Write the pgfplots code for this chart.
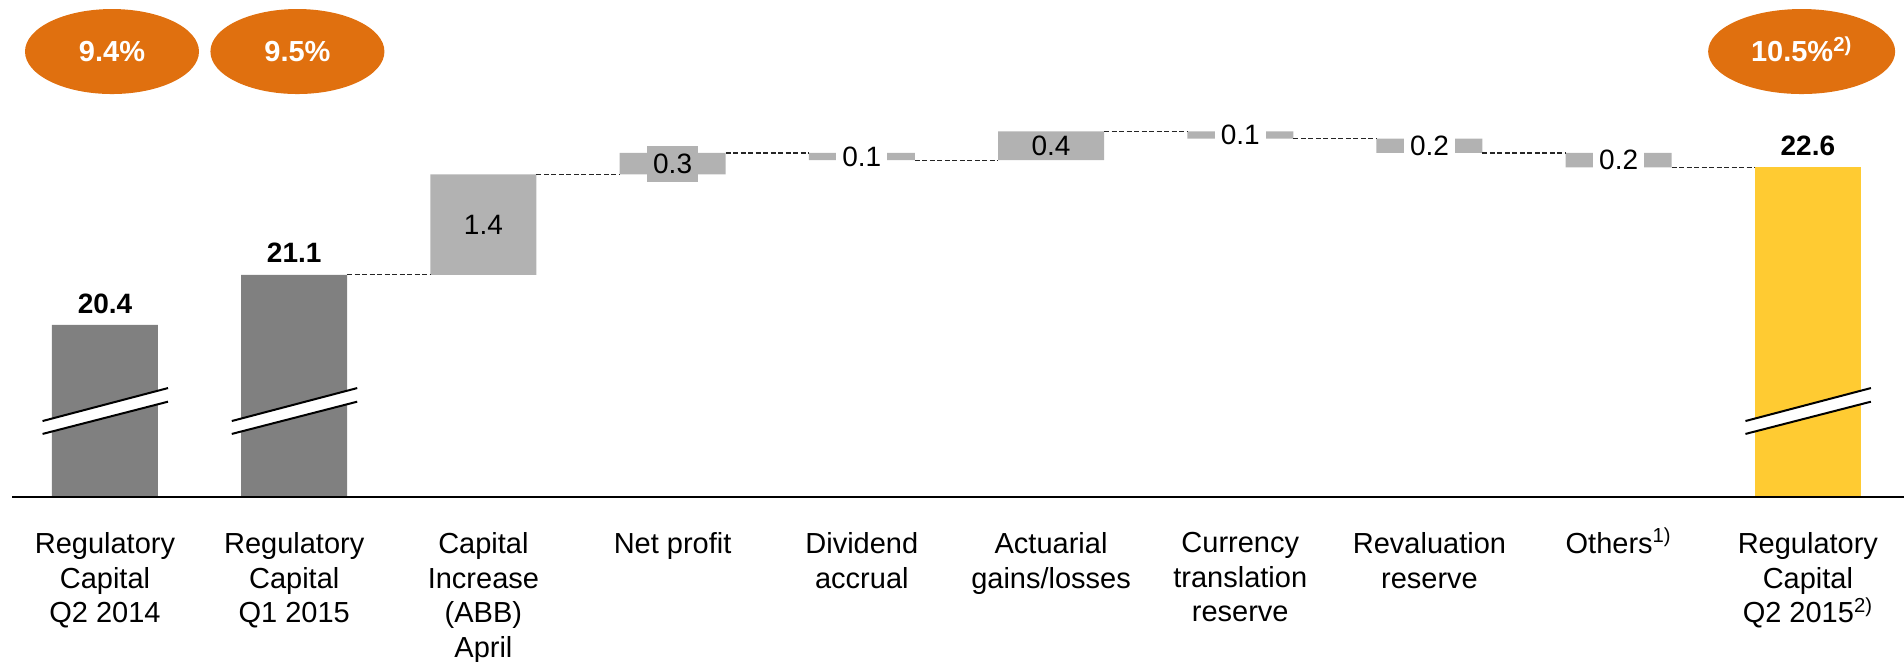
\documentclass[border=0pt]{standalone}
\usepackage{pgfplots}
\pgfplotsset{compat=1.18}
\usepackage{pgfplotstable}
\usepackage{fontspec}
\setmainfont{Liberation Sans}
\usetikzlibrary{shapes.geometric}

\definecolor{totalgrey}{HTML}{808080}
\definecolor{stepgrey}{HTML}{B2B2B2}
\definecolor{finalyellow}{HTML}{FFCB32}
\definecolor{ratioorange}{HTML}{E0700F}

% Waterfall of regulatory capital (EUR bn):
% base = lower end of a floating step, step = its height,
% total / final = full bars standing on the axis
\pgfplotstableread{
x  base  step  total  final
0  0     0     20.4   0
1  0     0     21.1   0
2  21.1  1.4   0      0
3  22.5  0.3   0      0
4  22.7  0.1   0      0
5  22.7  0.4   0      0
6  23.0  0.1   0      0
7  22.8  0.2   0      0
8  22.6  0.2   0      0
9  0     0     0      22.6
}\waterfall

% dashed connectors between neighbouring bars
\pgfplotstableread{
x     y
1.28  21.1
1.72  21.1
nan   nan
2.28  22.5
2.72  22.5
nan   nan
3.28  22.8
3.72  22.8
nan   nan
4.28  22.7
4.72  22.7
nan   nan
5.28  23.1
5.72  23.1
nan   nan
6.28  23.0
6.72  23.0
nan   nan
7.28  22.8
7.72  22.8
nan   nan
8.28  22.6
8.72  22.6
}\connectors

\pgfplotsset{
  frame/.style={
    scale only axis,
    width=946pt, height=248.5pt,
    xmin=-0.4915, xmax=9.508,
    ymin=18, ymax=24.935,
  },
}
\newcommand{\fn}[1]{\textsuperscript{\smash{#1}}}

\begin{document}
\begin{tikzpicture}
\useasboundingbox (0,0) rectangle (952pt,-331pt);

\begin{axis}[
  frame,
  at={(6pt,-248.5pt)}, anchor=south west,
  ybar stacked, bar width=53pt,
  hide y axis,
  axis x line=bottom,
  x axis line style={-, line width=1.3pt, black},
  axis on top,
  xtick={0,...,9},
  major tick length=0pt,
  xticklabels={
    {Regulatory\\Capital\\Q2 2014},
    {Regulatory\\Capital\\Q1 2015},
    {Capital\\Increase\\(ABB)\\April},
    {Net profit},
    {Dividend\\accrual},
    {Actuarial\\gains/losses},
    {Currency\\translation\\reserve},
    {Revaluation\\reserve},
    {Others\fn{1)}},
    {Regulatory\\Capital\\Q2 2015\fn{2)}}
  },
  xticklabel style={anchor=north, align=center, inner sep=0pt,
    yshift=-17.5pt, font=\fontsize{14.5}{17.3}\selectfont},
]
\addplot[draw=none, fill=none] table[x=x, y=base] {\waterfall};
\addplot[draw=none, fill=stepgrey] table[x=x, y=step] {\waterfall};
\addplot[draw=none, fill=totalgrey] table[x=x, y=total] {\waterfall};
\addplot[draw=none, fill=finalyellow] table[x=x, y=final] {\waterfall};
\end{axis}

\begin{axis}[
  frame,
  at={(6pt,-248.5pt)}, anchor=south west,
  hide axis, clip=false,
]
\addplot[black!85, line width=0.55pt, dash pattern=on 2.5pt off 1.25pt,
  unbounded coords=jump] table[x=x, y=y] {\connectors};

% axis-break marks on the full bars
\pgfplotsinvokeforeach{0,1,9}{
  \fill[white] (axis cs:#1-0.33,18.88) -- (axis cs:#1+0.333,19.33)
    -- (axis cs:#1+0.333,19.52) -- (axis cs:#1-0.33,19.06) -- cycle;
  \draw[black, line width=1pt] (axis cs:#1-0.33,18.88) -- (axis cs:#1+0.333,19.33);
  \draw[black, line width=1pt] (axis cs:#1-0.33,19.06) -- (axis cs:#1+0.333,19.52);
}

% totals above the full bars
\tikzset{tot/.style={anchor=base, yshift=6pt, inner sep=0pt,
  font=\bfseries\fontsize{14}{16}\selectfont}}
\node[tot] at (axis cs:0,20.4) {20.4};
\node[tot] at (axis cs:1,21.1) {21.1};
\node[tot] at (axis cs:9,22.6) {22.6};

% step values in the middle of the floating bars
\tikzset{val/.style={inner xsep=3pt, inner ysep=2pt,
  font=\fontsize{14}{16}\selectfont}}
\node[val] at (axis cs:2,21.8) {1.4};
\node[val, fill=stepgrey, minimum height=18pt] at (axis cs:3,22.65) {0.3};
\node[val, fill=white] at (axis cs:4,22.75) {0.1};
\node[val] at (axis cs:5,22.9) {0.4};
\node[val, fill=white] at (axis cs:6,23.05) {0.1};
\node[val, fill=white] at (axis cs:7,22.9) {0.2};
\node[val, fill=white] at (axis cs:8,22.7) {0.2};

% capital ratios
\tikzset{ratio/.style={ellipse, fill=ratioorange, text=white, inner sep=0pt,
  minimum height=42.5pt, font=\bfseries\fontsize{14.5}{16}\selectfont}}
\node[ratio, minimum width=87pt] at (axis cs:0.037,24.216) {9.4\%};
\node[ratio, minimum width=87pt] at (axis cs:1.017,24.216) {9.5\%};
\node[ratio, minimum width=93.5pt] at (axis cs:8.967,24.216) {10.5\%\fn{2)}};
\end{axis}
\end{tikzpicture}
\end{document}
